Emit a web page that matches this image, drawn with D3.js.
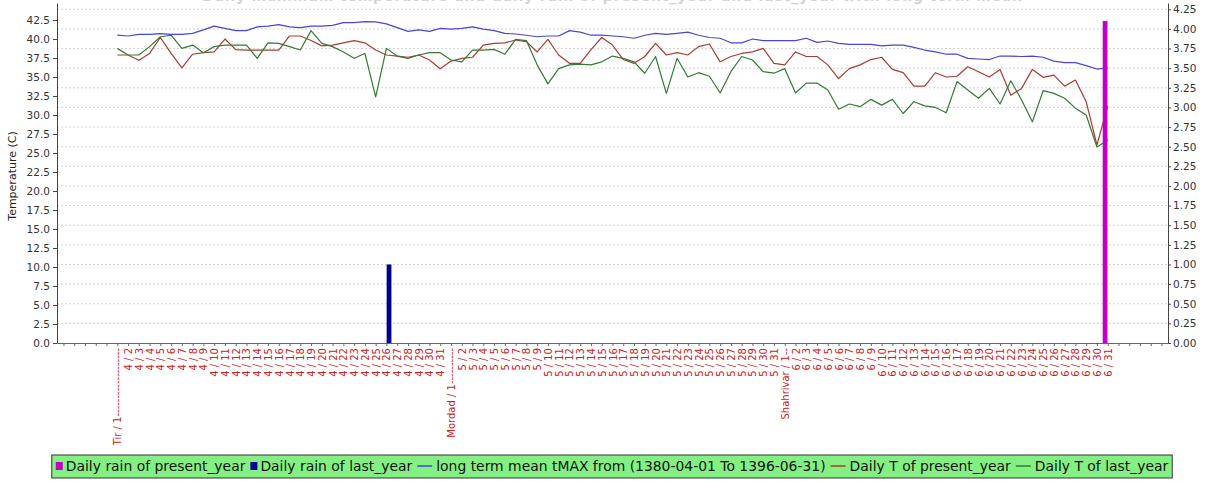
<!DOCTYPE html>
<html>
<head>
<meta charset="utf-8">
<script src="https://cdn.jsdelivr.net/npm/d3@7"></script>
<style>
  body { margin: 0; background: #fff; }
  svg { display: block; font-family: "DejaVu Sans", sans-serif; }
</style>
</head>
<body>
<div id="chart"></div>
<script>
// ---- data ----
const monthNames = ["Tir", "Mordad", "Shahrivar"];
const monthNumbers = [4, 5, 6];
const monthStartDashes = ["-------------------", "----------", "--"];

// long term mean tMAX, one value per day (Tir 1 .. Shahrivar 31)
const longTermMean = [
  40.5, 40.4, 40.6, 40.6, 40.7, 40.6, 40.6, 40.75, 41.2, 41.7,
  41.4, 41.1, 41.1, 41.6, 41.7, 41.9, 41.6, 41.5, 41.7, 41.7,
  41.8, 42.15, 42.15, 42.3, 42.25, 42.0, 41.5, 41.0, 41.2, 41.0,
  41.4, 41.3, 41.4, 41.6, 41.3, 41.1, 40.75, 40.66, 40.5, 40.3,
  40.4, 40.4, 41.1, 40.9, 40.5, 40.5, 40.4, 40.3, 40.1, 40.5,
  40.75, 40.6, 40.75, 40.9, 40.5, 40.2, 40.1, 39.5, 39.5, 40.0,
  39.8, 39.8, 39.8, 39.8, 40.1, 39.56, 39.74, 39.43, 39.3, 39.3,
  39.3, 39.1, 39.2, 39.2, 38.9, 38.55, 38.3, 38.0, 38.0, 37.46,
  37.37, 37.3, 37.76, 37.76, 37.7, 37.76, 37.6, 37.1, 36.9, 36.9,
  36.5, 36.05, 36.2
];

// daily T of present year
const presentT = [
  37.9, 37.9, 37.2, 38.1, 40.2, 38.1, 36.2, 38.0, 38.2, 38.3,
  40.0, 38.6, 38.55, 38.55, 38.55, 38.55, 40.4, 40.4, 39.8, 39.1,
  39.2, 39.5, 39.8, 39.5, 38.55, 37.9, 37.76, 37.6, 37.9, 37.24,
  36.1, 37.1, 37.46, 37.6, 39.2, 39.43, 39.5, 39.87, 39.65, 38.3,
  39.96, 37.9, 36.8, 36.8, 38.6, 40.2, 39.2, 37.3, 36.8, 37.7,
  39.43, 37.9, 38.2, 37.9, 39.0, 39.34, 37.0, 37.7, 38.1, 38.3,
  38.77, 36.8, 36.6, 38.3, 37.7, 37.7, 36.6, 34.8, 36.1, 36.6,
  37.3, 37.6, 36.0, 35.57, 33.8, 33.8, 35.57, 35.0, 35.1, 36.36,
  35.7, 35.0, 36.0, 32.6, 33.5, 36.0, 34.96, 35.26, 33.8, 34.6,
  31.75, 26.05, 31.2
];

// daily T of last year
const lastT = [
  38.77, 37.9, 37.9, 39.0, 40.3, 40.5, 38.77, 39.2, 38.2, 39.0,
  39.2, 39.2, 39.2, 37.46, 39.5, 39.43, 39.0, 38.55, 41.1, 39.43,
  39.0, 38.3, 37.46, 38.1, 32.4, 38.77, 37.76, 37.46, 37.9, 38.2,
  38.2, 37.24, 37.0, 38.55, 38.55, 38.64, 38.0, 39.96, 39.8, 36.6,
  34.1, 36.1, 36.6, 36.7, 36.6, 37.0, 37.76, 37.46, 37.0, 35.5,
  37.7, 32.85, 37.46, 35.0, 35.57, 35.1, 32.9, 35.7, 37.7, 37.24,
  35.7, 35.5, 36.1, 32.9, 34.2, 34.2, 33.3, 30.75, 31.45, 31.1,
  32.06, 31.3, 32.06, 30.2, 31.75, 31.2, 31.0, 30.3, 34.4, 33.3,
  32.2, 33.5, 31.45, 34.5, 31.97, 29.1, 33.2, 32.85, 32.2, 30.9,
  30.0, 25.8, 26.7
];

// daily rain (right axis), only days with rain
const rainPresentDays = [93];
const rainPresentValues = [4.1];
const rainLastDays = [26];
const rainLastValues = [1.0];

const leftTicks = d3.range(0, 42.51, 2.5);
const rightTicks = d3.range(0, 4.251, 0.25);

const legendLabels = [
  "Daily rain of present_year",
  "Daily rain of last_year",
  "long term mean tMAX from (1380-04-01 To 1396-06-31)",
  "Daily T of present_year",
  "Daily T of last_year"
];
const titleText = "Daily maximum temperature and daily rain of present_year and last_year with long term mean";

// ---- colours ----
const cPresentRain = "#c000c8";
const cLastRain = "#000090";
const cMean = "#4646d8";
const cPresentT = "#aa3c32";
const cLastT = "#347a34";

// x tick labels: "Tir / 1---", "4 / 2", ...
const days = [];
const xLabels = {};
monthNames.forEach(function (m, i) {
  for (let d = 1; d <= 31; d++) {
    const idx = i * 31 + d;
    days.push(idx);
    xLabels[idx] = d === 1 ? m + " / 1" + monthStartDashes[i] : monthNumbers[i] + " / " + d;
  }
});

const width = 1205, height = 481;
const plotLeft = 57, plotRight = 1168, plotTop = 3, plotBottom = 343;

const svg = d3.select("#chart").append("svg")
  .attr("width", width)
  .attr("height", height);

svg.append("rect").attr("width", width).attr("height", height).attr("fill", "#fff");

// scales
const x = d3.scaleLinear().domain([-4.6, 98.6]).range([plotLeft, plotRight]);
const yT = d3.scaleLinear().domain([0, 44.74]).range([plotBottom, plotTop]);
const yR = d3.scaleLinear().domain([0, 4.33]).range([plotBottom, plotTop]);
const barOffset = d3.scaleBand().domain(["present", "last"]).range([-5, 5]).paddingInner(0.08);

// faint title, cut off at the top edge as in the source image
svg.append("text")
  .attr("x", 612)
  .attr("y", 1)
  .attr("text-anchor", "middle")
  .attr("font-size", 14)
  .attr("font-weight", "bold")
  .attr("fill", "#d2d2d2")
  .attr("textLength", 820)
  .text(titleText);

// gridlines follow the right axis
svg.append("g")
  .selectAll("line")
  .data(rightTicks.filter(d => d > 0))
  .join("line")
  .attr("x1", plotLeft)
  .attr("x2", plotRight)
  .attr("y1", d => yR(d))
  .attr("y2", d => yR(d))
  .attr("stroke", "#c8c8c8")
  .attr("stroke-width", 0.8)
  .attr("stroke-dasharray", "2,2");

// lines
const line = d3.line()
  .x((d, i) => x(days[i]))
  .y(d => yT(d));

const series = [
  { values: longTermMean, color: cMean },
  { values: presentT, color: cPresentT },
  { values: lastT, color: cLastT }
];
series.forEach(function (s) {
  svg.append("path")
    .datum(s.values)
    .attr("fill", "none")
    .attr("stroke", s.color)
    .attr("stroke-width", 1.2)
    .attr("stroke-linejoin", "round")
    .attr("d", line);
});

// rain bars
function drawBars(dayList, valueList, key, color) {
  svg.append("g")
    .selectAll("rect")
    .data(dayList.map((d, i) => ({ day: d, value: valueList[i] })))
    .join("rect")
    .attr("x", d => x(d.day) + barOffset(key))
    .attr("width", barOffset.bandwidth())
    .attr("y", d => yR(d.value))
    .attr("height", d => yR(0) - yR(d.value))
    .attr("fill", color);
}
drawBars(rainPresentDays, rainPresentValues, "present", cPresentRain);
drawBars(rainLastDays, rainLastValues, "last", cLastRain);

// left axis
const leftAxis = svg.append("g")
  .attr("transform", `translate(${plotLeft},0)`)
  .call(d3.axisLeft(yT).tickValues(leftTicks).tickFormat(d3.format(".1f")).tickSize(4).tickSizeOuter(0).tickPadding(3));
leftAxis.select(".domain").attr("stroke", "#444");
leftAxis.selectAll(".tick line").attr("stroke", "#444");
leftAxis.selectAll("text").attr("font-size", 10.5).attr("fill", "#333")
  .attr("font-family", "DejaVu Sans, sans-serif");

// right axis
const rightAxis = svg.append("g")
  .attr("transform", `translate(${plotRight},0)`)
  .call(d3.axisRight(yR).tickValues(rightTicks).tickFormat(d3.format(".2f")).tickSize(3).tickSizeOuter(0).tickPadding(2));
rightAxis.select(".domain").attr("stroke", "#444");
rightAxis.selectAll(".tick line").attr("stroke", "#444");
rightAxis.selectAll("text").attr("font-size", 10.5).attr("fill", "#333")
  .attr("font-family", "DejaVu Sans, sans-serif");

// bottom axis: minor ticks over the whole range, labels for each day
const bottomAxis = svg.append("g")
  .attr("transform", `translate(0,${plotBottom})`)
  .call(d3.axisBottom(x).tickValues(d3.range(-4, 99)).tickSize(3).tickSizeOuter(0)
    .tickFormat(d => xLabels[d] || ""));
bottomAxis.select(".domain").attr("stroke", "#666");
bottomAxis.selectAll(".tick line").attr("stroke", "#666");
bottomAxis.selectAll("text")
  .attr("transform", "rotate(-90)")
  .attr("text-anchor", "end")
  .attr("x", -5)
  .attr("y", 0)
  .attr("dy", "0.35em")
  .attr("font-size", 10)
  .attr("fill", "#d02020")
  .attr("font-family", "DejaVu Sans, sans-serif");

// y axis title
svg.append("text")
  .attr("transform", "translate(16,176) rotate(-90)")
  .attr("text-anchor", "middle")
  .attr("font-size", 11)
  .attr("fill", "#222")
  .text("Temperature (C)");

// legend
const legendItems = [
  { label: legendLabels[0], color: cPresentRain, type: "box" },
  { label: legendLabels[1], color: cLastRain, type: "box" },
  { label: legendLabels[2], color: cMean, type: "line" },
  { label: legendLabels[3], color: cPresentT, type: "line" },
  { label: legendLabels[4], color: cLastT, type: "line" }
];
const legendY = 466;
const legendTarget = 1114;
const legendBg = svg.append("rect");
const legend = svg.append("g");

function layoutLegend(fontSize) {
  legend.selectAll("*").remove();
  let cx = 0;
  legendItems.forEach(function (it, i) {
    if (i > 0) cx += 5;
    if (it.type === "box") {
      legend.append("rect")
        .attr("x", cx).attr("y", legendY - 4).attr("width", 7).attr("height", 8)
        .attr("fill", it.color);
      cx += 10;
    } else {
      legend.append("line")
        .attr("x1", cx).attr("x2", cx + 15).attr("y1", legendY).attr("y2", legendY)
        .attr("stroke", it.color).attr("stroke-width", 1.5);
      cx += 19;
    }
    const t = legend.append("text")
      .attr("x", cx).attr("y", legendY).attr("dy", "0.36em")
      .attr("font-size", fontSize).attr("fill", "#111")
      .text(it.label);
    cx += t.node().getComputedTextLength();
  });
  return cx;
}
let fs = 12.5;
const w0 = layoutLegend(fs);
const fixedPart = 5 * 4 + 10 * 2 + 19 * 3;
fs = fs * (legendTarget - fixedPart) / (w0 - fixedPart);
const w1 = layoutLegend(fs);
const legendX = 612 - w1 / 2;
legend.attr("transform", `translate(${legendX},0)`);
legendBg
  .attr("x", legendX - 4).attr("y", 455)
  .attr("width", w1 + 8).attr("height", 23)
  .attr("fill", "#84f084")
  .attr("stroke", "#333").attr("stroke-width", 1);
</script>
</body>
</html>
